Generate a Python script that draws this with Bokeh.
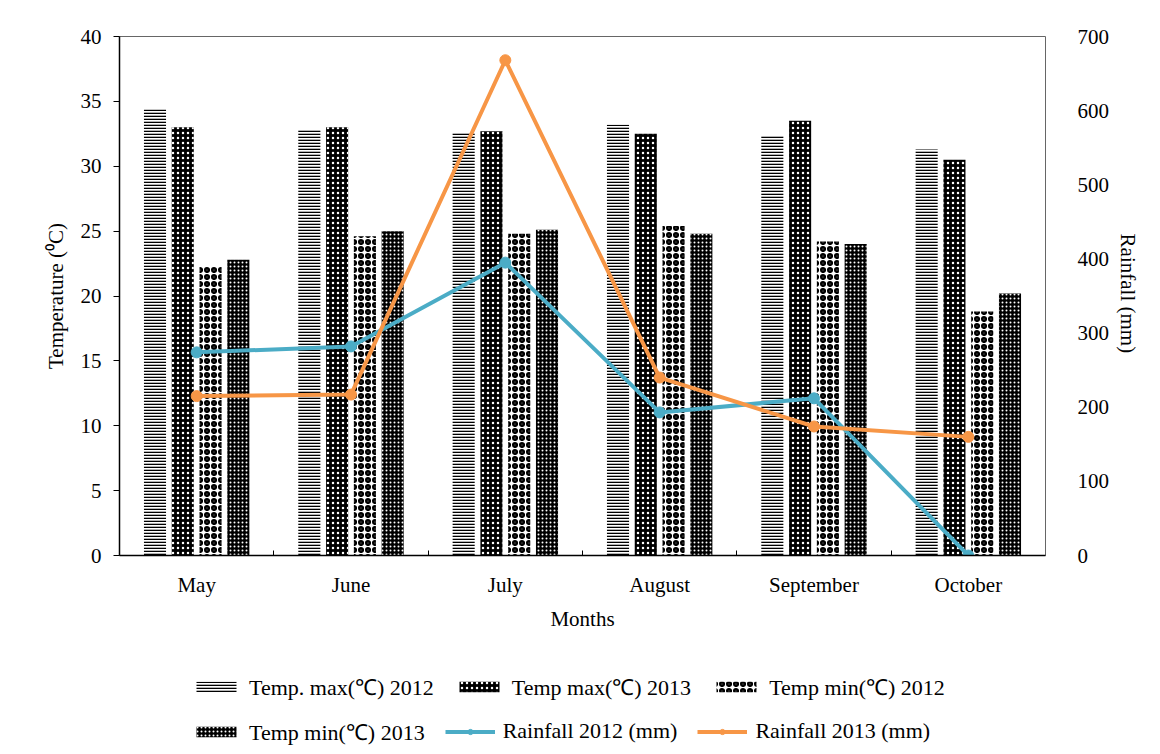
from bokeh.plotting import figure
from bokeh.layouts import column
from bokeh.models import (ColumnDataSource, Range1d, LinearAxis, FixedTicker, Legend, LegendItem)
from bokeh.transform import dodge
from bokeh.embed import file_html
from bokeh.resources import INLINE

months = ["May", "June", "July", "August", "September", "October"]
tmax_2012 = [34.4, 32.8, 32.6, 33.2, 32.4, 31.3]
tmax_2013 = [33.0, 33.0, 32.7, 32.5, 33.5, 30.5]
tmin_2012 = [22.3, 24.6, 24.8, 25.4, 24.2, 18.8]
tmin_2013 = [22.8, 25.0, 25.1, 24.8, 24.0, 20.2]
rain_2012 = [274, 282, 395, 193, 212, 0]
rain_2013 = [215, 217, 668, 240, 174, 160]
temp_ticks = [0, 5, 10, 15, 20, 25, 30, 35, 40]
rain_ticks = [0, 100, 200, 300, 400, 500, 600, 700]
legend_labels = ["Temp. max(\u2103) 2012", "Temp max(\u2103) 2013", "Temp min(\u2103) 2012",
                 "Temp min(\u2103) 2013", "Rainfall 2012 (mm)", "Rainfall 2013 (mm)"]

xs = list(range(1, len(months) + 1))
src = ColumnDataSource(dict(x=xs, tmax12=tmax_2012, tmax13=tmax_2013,
                            tmin12=tmin_2012, tmin13=tmin_2013,
                            r12=rain_2012, r13=rain_2013))

FONT = "Liberation Serif"
FS = "21px"
BLUE = "#4BACC6"
ORANGE = "#F79646"

bar_styles = [
    dict(fill_color="white", hatch_pattern="-", hatch_color="black", hatch_scale=3, hatch_weight=1.6),
    dict(fill_color="black", hatch_pattern=".", hatch_color="white", hatch_scale=5, hatch_weight=1.5),
    dict(fill_color="white", hatch_pattern="o", hatch_color="black", hatch_scale=7, hatch_weight=2.6),
    dict(fill_color="black", hatch_pattern=".", hatch_color="white", hatch_scale=4, hatch_weight=2.2),
]

p = figure(width=1150, height=645, output_backend="svg", toolbar_location=None,
           x_range=Range1d(0.5, len(months) + 0.5), y_range=Range1d(0, 40),
           min_border_left=119, min_border_right=105, min_border_top=36,
           min_border_bottom=90)
p.extra_y_ranges = {"rain": Range1d(0, 700)}
p.xgrid.grid_line_color = None
p.ygrid.grid_line_color = None
p.outline_line_color = "#666666"
p.outline_line_width = 1

bw = 0.143
offsets = [-0.27, -0.09, 0.09, 0.27]
cols = ["tmax12", "tmax13", "tmin12", "tmin13"]
for off, c, st in zip(offsets, cols, bar_styles):
    p.vbar(x=dodge("x", off), top=c, width=bw, source=src, line_color=None, **st)

p.line("x", "r12", source=src, y_range_name="rain", line_color=BLUE, line_width=4)
p.scatter("x", "r12", source=src, y_range_name="rain", size=11, fill_color=BLUE, line_color=BLUE)
p.line("x", "r13", source=src, y_range_name="rain", line_color=ORANGE, line_width=4)
p.scatter("x", "r13", source=src, y_range_name="rain", size=11, fill_color=ORANGE, line_color=ORANGE)

# left axis
ya = p.yaxis[0]
ya.ticker = FixedTicker(ticks=temp_ticks)
ya.axis_label = "Temperature (\u2070C)"
ya.axis_line_color = "black"
ya.axis_line_width = 1.5
ya.major_tick_out = 6
ya.major_tick_in = 0
ya.major_tick_line_color = "black"
ya.minor_tick_line_color = None

# right axis
ra = LinearAxis(y_range_name="rain", ticker=FixedTicker(ticks=rain_ticks),
                axis_label="Rainfall  (mm)")
ra.axis_line_color = None
ra.major_tick_line_color = None
ra.minor_tick_line_color = None
p.add_layout(ra, "right")

# bottom axis
xa = p.xaxis[0]
xa.ticker = FixedTicker(ticks=xs, minor_ticks=[x + 0.5 for x in xs[:-1]])
xa.major_label_overrides = {x: m for x, m in zip(xs, months)}
xa.axis_label = "Months"
xa.major_tick_line_color = None
xa.minor_tick_in = 5
xa.minor_tick_out = 0
xa.minor_tick_line_color = "black"
xa.axis_line_color = "black"
xa.axis_line_width = 1.5

for ax in (ya, ra, xa):
    ax.major_label_text_font = FONT
    ax.major_label_text_font_size = FS
    ax.major_label_text_color = "black"
    ax.axis_label_text_font = FONT
    ax.axis_label_text_font_size = FS
    ax.axis_label_text_font_style = "normal"
    ax.axis_label_text_color = "black"
ya.major_label_standoff = 12
ya.axis_label_standoff = 10
ra.major_label_standoff = 26
ra.axis_label_standoff = 4
xa.major_label_standoff = 11
xa.axis_label_standoff = 7

# legend strip under the chart (proxy glyphs with the same styles, outside its view)
lf = figure(width=1150, height=109, output_backend="svg", toolbar_location=None,
            x_range=Range1d(0, 1), y_range=Range1d(0, 1),
            x_axis_location=None, y_axis_location=None,
            min_border_left=0, min_border_right=0, min_border_top=0, min_border_bottom=0,
            outline_line_color=None)
lf.grid.visible = False
proxy = ColumnDataSource(dict(x=[-5], y=[-5]))
lr = []
for st in bar_styles:
    lr.append([lf.vbar(x="x", top="y", width=0.1, source=proxy, line_color=None, **st)])
for colr in (BLUE, ORANGE):
    a = lf.line("x", "y", source=proxy, line_color=colr, line_width=4)
    b = lf.scatter("x", "y", source=proxy, size=11, fill_color=colr, line_color=colr)
    lr.append([a, b])

leg1 = Legend(items=[LegendItem(label=legend_labels[i], renderers=lr[i]) for i in range(3)],
              orientation="horizontal", location=(72, 53))
leg2 = Legend(items=[LegendItem(label=legend_labels[i], renderers=lr[i]) for i in range(3, 6)],
              orientation="horizontal", location=(72, 8))
for lg in (leg1, leg2):
    lg.label_text_font = FONT
    lg.label_text_font_size = "22px"
    lg.label_text_color = "black"
    lg.glyph_width = 50
    lg.glyph_height = 13
    lg.label_standoff = 8
    lg.spacing = 20
    lg.padding = 4
    lg.margin = 0
    lg.border_line_color = None
    lg.background_fill_alpha = 0
    lf.add_layout(lg, "center")

layout = column(p, lf, spacing=0)
open("out.html", "w").write(file_html(layout, INLINE))
